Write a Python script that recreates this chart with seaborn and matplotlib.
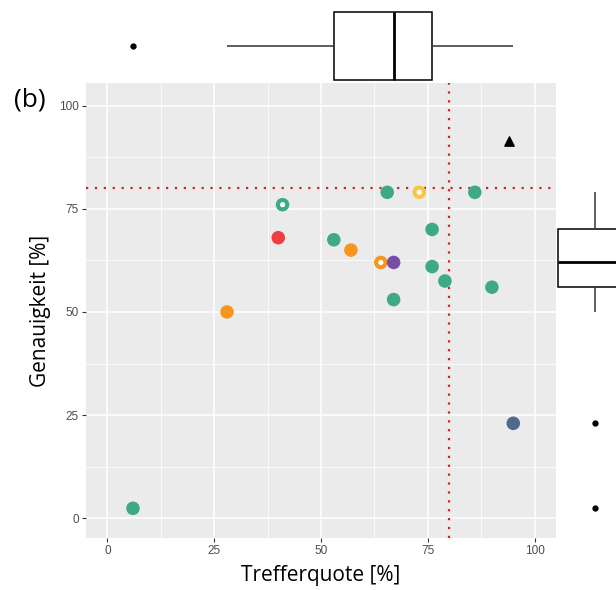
import numpy as np
import pandas as pd
import matplotlib
matplotlib.use("Agg")
import matplotlib.pyplot as plt
import seaborn as sns

# -------------------------------------------
# DATA
# -------------------------------------------
trefferquote = [6, 28, 40, 41, 53, 57, 64, 67, 65.5, 73, 76, 76, 79, 67, 86, 90, 95]
genauigkeit  = [2.4, 50, 68, 76, 67.5, 65, 62, 62, 79, 79, 70, 61, 57.5, 53, 79, 56, 23]
gruppe       = ["gruen", "orange", "rot", "gruen", "gruen", "orange", "orange", "lila",
                "gruen", "gelb", "gruen", "gruen", "gruen", "gruen", "gruen", "gruen", "blau"]
markiert     = [0, 0, 0, 1, 0, 0, 1, 0, 0, 1, 0, 0, 0, 0, 0, 0, 0]

ziel_x, ziel_y = [94], [91.5]     # black triangle
schwelle = 80                     # dotted threshold lines

farben = {"gruen": "#3DAA83", "orange": "#F7951E", "rot": "#EF3D42",
          "lila": "#7A4DA6", "gelb": "#F9C746", "blau": "#50698C"}

df = pd.DataFrame({"x": trefferquote, "y": genauigkeit, "g": gruppe, "m": markiert})

# -------------------------------------------
# FIGURE / AXES
# -------------------------------------------
W, H = 616, 590
fig = plt.figure(figsize=(W / 100, H / 100), dpi=100)

def px_axes(x0, y0, x1, y1):
    return fig.add_axes([x0 / W, 1 - y1 / H, (x1 - x0) / W, (y1 - y0) / H])

ax = px_axes(86, 83, 556, 538)
ax_top = px_axes(86, 0, 556, 83)
ax_right = px_axes(556, 83, 640, 538)

lims = (-5, 105)

# main panel, ggplot look
ax.set_facecolor("#EBEBEB")
for s in ax.spines.values():
    s.set_visible(False)
ax.set_xlim(lims)
ax.set_ylim(-4.8, 105.5)
ticks = [0, 25, 50, 75, 100]
ax.set_xticks(ticks)
ax.set_yticks(ticks)
ax.set_xticks([12.5, 37.5, 62.5, 87.5], minor=True)
ax.set_yticks([12.5, 37.5, 62.5, 87.5], minor=True)
ax.grid(which="major", color="white", lw=1.1)
ax.grid(which="minor", color="white", lw=0.55)
ax.set_axisbelow(True)
ax.tick_params(which="major", length=3, color="#333333", labelcolor="#4D4D4D",
               labelsize=8.5, pad=2)
ax.tick_params(which="minor", length=0)
for lab in ax.get_xticklabels() + ax.get_yticklabels():
    lab.set_family("Liberation Sans")

ax.axvline(schwelle, color="#D42020", ls=(0, (1, 3)), lw=1.6, zorder=2)
ax.axhline(schwelle, color="#D42020", ls=(0, (1, 3)), lw=1.6, zorder=2)

sns.scatterplot(data=df, x="x", y="y", hue="g", palette=farben, s=95,
                edgecolor="none", legend=False, ax=ax, zorder=3)
ring = df[df["m"] == 1]
sns.scatterplot(data=ring, x="x", y="y", color="white", s=14, edgecolor="none",
                legend=False, ax=ax, zorder=4)
ax.scatter(ziel_x, ziel_y, marker="^", s=45, color="black", zorder=4)

ax.set_xlabel("Trefferquote [%]", fontsize=15, family="Open Sans", labelpad=6)
ax.set_ylabel("Genauigkeit [%]", fontsize=15, family="Open Sans", labelpad=6)

fig.text(14 / W, 1 - 100 / H, "(b)", fontsize=19, family="Open Sans", va="center")

# marginal boxplots (ggplot style: no whisker caps, bold median)
box_kw = dict(width=0.8, color="white", linecolor="black", linewidth=1.1,
              fliersize=3.5, capprops=dict(linewidth=0),
              whiskerprops=dict(color="#333333"),
              medianprops=dict(linewidth=2),
              flierprops=dict(marker="o", markerfacecolor="black",
                              markeredgecolor="black"))
sns.boxplot(x=df["x"], ax=ax_top, **box_kw)
ax_top.set_xlim(lims)
ax_top.set_ylim(0.435, -0.541)
sns.boxplot(y=df["y"], ax=ax_right, **box_kw)
ax_right.set_ylim(ax.get_ylim())
ax_right.set_xlim(-0.42, 0.486)
for a in (ax_top, ax_right):
    a.axis("off")

fig.savefig("out.png", dpi=100)
